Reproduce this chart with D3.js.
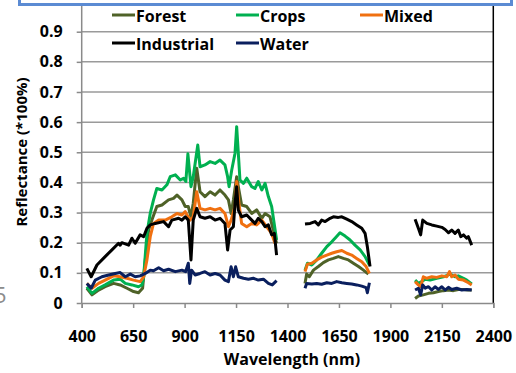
<!DOCTYPE html>
<html lang="en">
<head>
	<meta charset="UTF-8">
	<title>Reflectance spectra</title>
	<script src="https://cdnjs.cloudflare.com/ajax/libs/d3/7.8.5/d3.min.js"></script>
	<style>
		body { margin: 0; background: #fff; }
		text { font-family: "Open Sans", "Liberation Sans", sans-serif; font-weight: bold; fill: #000; }
	</style>
</head>
<body>
	<div id="chart"></div>

	<script type="text/javascript">

	// [wavelength nm, reflectance], null = gap between bands
	var forest = [
		[425,0.049],[450,0.027],[482,0.043],[514,0.054],[555,0.065],[587,0.060],[620,0.049],[652,0.038],[676,0.034],[696,0.049],
		[709,0.143],[725,0.242],[741,0.275],[765,0.320],[790,0.325],[822,0.342],[846,0.347],[863,0.358],[887,0.342],[903,0.320],
		[918,0.320],[931,0.286],[942,0.331],[959,0.447],[975,0.369],[999,0.353],[1024,0.369],[1048,0.358],[1072,0.375],[1096,0.358],
		[1113,0.342],[1126,0.297],[1137,0.342],[1153,0.419],[1164,0.375],[1177,0.325],[1202,0.320],[1226,0.297],[1250,0.309],[1275,0.281],
		[1291,0.297],[1315,0.286],[1331,0.242],[1347,0.198],
		null,
		[1485,0.065],[1493,0.096],[1506,0.087],[1526,0.109],[1550,0.121],[1574,0.134],[1599,0.143],[1623,0.148],[1647,0.154],[1672,0.148],
		[1696,0.143],[1720,0.132],[1745,0.121],[1769,0.109],[1793,0.096],
		null,
		[2020,0.015],[2036,0.023],[2060,0.027],[2085,0.032],[2109,0.034],[2133,0.038],[2158,0.041],[2182,0.043],[2206,0.041],[2230,0.045],
		[2255,0.045],[2279,0.043],[2295,0.043]
	];

	var crops = [
		[425,0.054],[450,0.032],[482,0.049],[514,0.060],[555,0.076],[587,0.079],[612,0.065],[644,0.060],[676,0.054],[693,0.060],
		[701,0.087],[717,0.231],[733,0.297],[749,0.342],[765,0.380],[790,0.375],[814,0.392],[830,0.419],[855,0.425],[879,0.408],
		[895,0.414],[906,0.403],[916,0.495],[931,0.386],[942,0.419],[964,0.524],[975,0.452],[999,0.458],[1024,0.469],[1048,0.463],
		[1072,0.474],[1096,0.458],[1109,0.419],[1116,0.386],[1129,0.441],[1145,0.497],[1153,0.585],[1161,0.497],[1169,0.408],[1186,0.397],
		[1202,0.414],[1226,0.386],[1242,0.380],[1258,0.403],[1275,0.375],[1291,0.397],[1307,0.353],[1323,0.320],[1347,0.209],
		null,
		[1485,0.109],[1497,0.132],[1518,0.126],[1542,0.143],[1566,0.165],[1591,0.187],[1615,0.203],[1631,0.215],[1655,0.233],[1680,0.222],
		[1704,0.209],[1728,0.192],[1753,0.176],[1777,0.154],[1798,0.126],
		null,
		[2020,0.076],[2036,0.065],[2052,0.071],[2069,0.079],[2093,0.076],[2125,0.082],[2158,0.087],[2190,0.096],[2214,0.087],[2230,0.090],
		[2255,0.082],[2271,0.076],[2295,0.063]
	];

	var mixed = [
		[425,0.065],[450,0.049],[482,0.065],[514,0.076],[555,0.090],[587,0.087],[620,0.082],[652,0.076],[684,0.071],[701,0.087],
		[717,0.143],[733,0.220],[749,0.264],[774,0.275],[806,0.275],[838,0.286],[863,0.297],[887,0.292],[903,0.303],[926,0.275],
		[942,0.286],[959,0.369],[975,0.314],[999,0.309],[1024,0.314],[1048,0.309],[1072,0.314],[1096,0.297],[1113,0.253],[1126,0.275],
		[1145,0.320],[1153,0.403],[1164,0.331],[1177,0.264],[1202,0.253],[1226,0.264],[1250,0.259],[1275,0.275],[1299,0.253],[1323,0.231],
		[1339,0.198],
		null,
		[1485,0.104],[1497,0.129],[1518,0.132],[1542,0.143],[1566,0.152],[1591,0.159],[1615,0.165],[1639,0.170],[1664,0.174],[1688,0.165],
		[1712,0.159],[1736,0.148],[1761,0.137],[1782,0.121],[1798,0.098],
		null,
		[2020,0.071],[2036,0.060],[2047,0.054],[2060,0.087],[2077,0.082],[2101,0.087],[2125,0.085],[2150,0.090],[2174,0.087],[2187,0.104],
		[2198,0.087],[2214,0.093],[2230,0.079],[2255,0.076],[2279,0.067],[2295,0.060]
	];

	var industrial = [
		[425,0.115],[446,0.087],[474,0.126],[514,0.154],[547,0.176],[579,0.198],[587,0.192],[595,0.200],[628,0.192],[644,0.215],
		[660,0.198],[684,0.226],[701,0.220],[717,0.248],[733,0.259],[757,0.264],[798,0.270],[822,0.253],[838,0.275],[871,0.281],
		[887,0.275],[903,0.286],[918,0.275],[931,0.143],[942,0.275],[959,0.314],[975,0.286],[999,0.281],[1024,0.286],[1048,0.275],
		[1072,0.281],[1096,0.264],[1109,0.176],[1121,0.242],[1137,0.253],[1145,0.330],[1153,0.386],[1161,0.308],[1177,0.286],[1202,0.292],
		[1226,0.275],[1242,0.264],[1258,0.281],[1275,0.270],[1291,0.253],[1307,0.259],[1323,0.226],[1336,0.231],[1347,0.159],
		null,
		[1485,0.262],[1510,0.264],[1534,0.270],[1550,0.259],[1566,0.275],[1583,0.270],[1607,0.281],[1623,0.286],[1647,0.284],[1664,0.286],
		[1688,0.278],[1712,0.270],[1736,0.259],[1761,0.248],[1777,0.231],[1788,0.187],[1801,0.121],
		null,
		[2020,0.278],[2036,0.248],[2047,0.226],[2057,0.275],[2077,0.264],[2101,0.259],[2125,0.255],[2150,0.251],[2166,0.244],[2182,0.233],
		[2198,0.242],[2214,0.231],[2230,0.242],[2242,0.220],[2255,0.226],[2271,0.215],[2279,0.220],[2295,0.192]
	];

	var water = [
		[425,0.065],[446,0.049],[466,0.076],[498,0.087],[531,0.093],[563,0.098],[587,0.101],[612,0.087],[636,0.096],[660,0.087],
		[684,0.090],[709,0.098],[733,0.109],[749,0.107],[774,0.117],[798,0.107],[822,0.112],[855,0.104],[887,0.109],[905,0.104],
		[918,0.132],[925,0.065],[934,0.109],[951,0.093],[975,0.098],[999,0.104],[1024,0.093],[1048,0.098],[1072,0.093],[1096,0.076],
		[1113,0.071],[1126,0.120],[1137,0.087],[1148,0.120],[1161,0.087],[1186,0.082],[1210,0.079],[1234,0.082],[1258,0.076],[1283,0.079],
		[1307,0.065],[1326,0.060],[1347,0.074],
		null,
		[1485,0.049],[1493,0.065],[1518,0.063],[1542,0.065],[1566,0.062],[1591,0.067],[1615,0.065],[1639,0.071],[1664,0.067],[1688,0.065],
		[1712,0.063],[1736,0.060],[1761,0.056],[1782,0.051],[1788,0.034],[1798,0.067],
		null,
		[2020,0.043],[2036,0.049],[2047,0.027],[2057,0.060],[2069,0.049],[2085,0.054],[2101,0.043],[2117,0.054],[2133,0.045],[2150,0.054],
		[2166,0.043],[2182,0.052],[2198,0.045],[2222,0.049],[2247,0.043],[2271,0.045],[2295,0.043]
	];

	var seriesNames = ['Forest', 'Crops', 'Mixed', 'Industrial', 'Water'];
	var seriesData = [forest, crops, mixed, industrial, water];
	var seriesColors = ['#4f6228', '#00b050', '#f07010', '#000000', '#0a1f5e'];

	var xTicks = [400, 650, 900, 1150, 1400, 1650, 1900, 2150, 2400];
	var yTicks = [0, 0.1, 0.2, 0.3, 0.4, 0.5, 0.6, 0.7, 0.8, 0.9];

	var width = 516;
	var height = 373;

	var svg = d3.select('#chart')
		.append('svg')
		.attr('width', width)
		.attr('height', height);

	var x = d3.scaleLinear()
		.domain([400, 2400])
		.range([81.7, 493.3]);

	var y = d3.scaleLinear()
		.domain([0, 0.9])
		.range([303, 31.7]);

	// faint marks left over from the slide
	svg.append('line')
		.attr('x1', 40).attr('x2', 40)
		.attr('y1', 58).attr('y2', 290)
		.attr('stroke', '#d0d0d0')
		.attr('stroke-width', 1.5)
		.attr('stroke-dasharray', '4,26');

	svg.append('text')
		.attr('x', -6)
		.attr('y', 303)
		.style('font-weight', 'normal')
		.style('font-size', '22px')
		.style('fill', '#8c8c8c')
		.text('5');

	// grid
	var gridVals = yTicks.slice(1).concat([1.0]);
	svg.append('g')
		.selectAll('line')
		.data(gridVals)
		.enter()
		.append('line')
		.attr('x1', x(400))
		.attr('x2', x(2400))
		.attr('y1', function(d) { return y(d); })
		.attr('y2', function(d) { return y(d); })
		.attr('stroke', '#9a9a9a')
		.attr('stroke-width', 1.5);

	// right border of plot area
	svg.append('line')
		.attr('x1', x(2400)).attr('x2', x(2400))
		.attr('y1', 0).attr('y2', y(0))
		.attr('stroke', '#000')
		.attr('stroke-width', 1.5);

	// axes
	var xAxis = d3.axisBottom(x)
		.tickValues(xTicks)
		.tickSize(5)
		.tickFormat(d3.format('d'));
	var gx = svg.append('g')
		.attr('transform', 'translate(0,' + y(0) + ')')
		.call(xAxis);
	gx.select('.domain').attr('stroke', '#8a8a8a').attr('stroke-width', 1.5);
	gx.selectAll('.tick line').attr('stroke', '#8a8a8a').attr('stroke-width', 1.5);
	gx.selectAll('.tick text')
		.attr('y', 39)
		.attr('dy', 0)
		.style('font-size', '16px');

	var yAxis = d3.axisLeft(y)
		.tickValues(yTicks)
		.tickSize(5)
		.tickFormat(function(d) { return d === 0 ? '0' : d3.format('.1f')(d); });
	var gy = svg.append('g')
		.attr('transform', 'translate(' + x(400) + ',0)')
		.call(yAxis);
	gy.select('.domain').remove();
	gy.append('line')
		.attr('x1', 0).attr('x2', 0)
		.attr('y1', 0).attr('y2', y(0))
		.attr('stroke', '#8a8a8a')
		.attr('stroke-width', 1.5);
	gy.selectAll('.tick line').attr('stroke', '#8a8a8a').attr('stroke-width', 1.5);
	gy.selectAll('.tick text')
		.attr('x', -19)
		.style('font-size', '16px');

	svg.selectAll('.tick text').style('font-family', '"Open Sans", sans-serif').style('font-weight', 'bold').attr('fill', '#000');

	// axis titles
	svg.append('text')
		.attr('x', 292)
		.attr('y', 365)
		.attr('text-anchor', 'middle')
		.style('font-size', '16px')
		.text('Wavelength (nm)');

	svg.append('text')
		.attr('transform', 'translate(27,152) rotate(-90)')
		.attr('text-anchor', 'middle')
		.style('font-size', '15px')
		.text('Reflectance (*100%)');

	// spectra
	var line = d3.line()
		.defined(function(d) { return d !== null; })
		.x(function(d) { return x(d[0]); })
		.y(function(d) { return y(d[1]); });

	svg.append('g')
		.selectAll('path')
		.data(seriesData)
		.enter()
		.append('path')
		.attr('d', line)
		.attr('fill', 'none')
		.attr('stroke', function(d, i) { return seriesColors[i]; })
		.attr('stroke-width', 3)
		.attr('stroke-linejoin', 'round');

	// legend
	var legendPos = [[112, 15], [236, 15], [360, 15], [112, 43], [236, 43]];
	var lg = svg.append('g')
		.selectAll('g')
		.data(seriesNames)
		.enter()
		.append('g')
		.attr('transform', function(d, i) { return 'translate(' + legendPos[i][0] + ',' + legendPos[i][1] + ')'; });
	lg.append('line')
		.attr('x1', 0).attr('x2', 23)
		.attr('y1', 0).attr('y2', 0)
		.attr('stroke', function(d, i) { return seriesColors[i]; })
		.attr('stroke-width', 3);
	lg.append('text')
		.attr('x', 24)
		.attr('y', 7)
		.style('font-size', '16px')
		.text(function(d) { return d; });

	// blue box at top
	svg.append('rect')
		.attr('x', 19.5)
		.attr('y', -10)
		.attr('width', 492)
		.attr('height', 14.5)
		.attr('fill', '#fff')
		.attr('stroke', '#5b8bd3')
		.attr('stroke-width', 3);

	</script>
</body>
</html>
